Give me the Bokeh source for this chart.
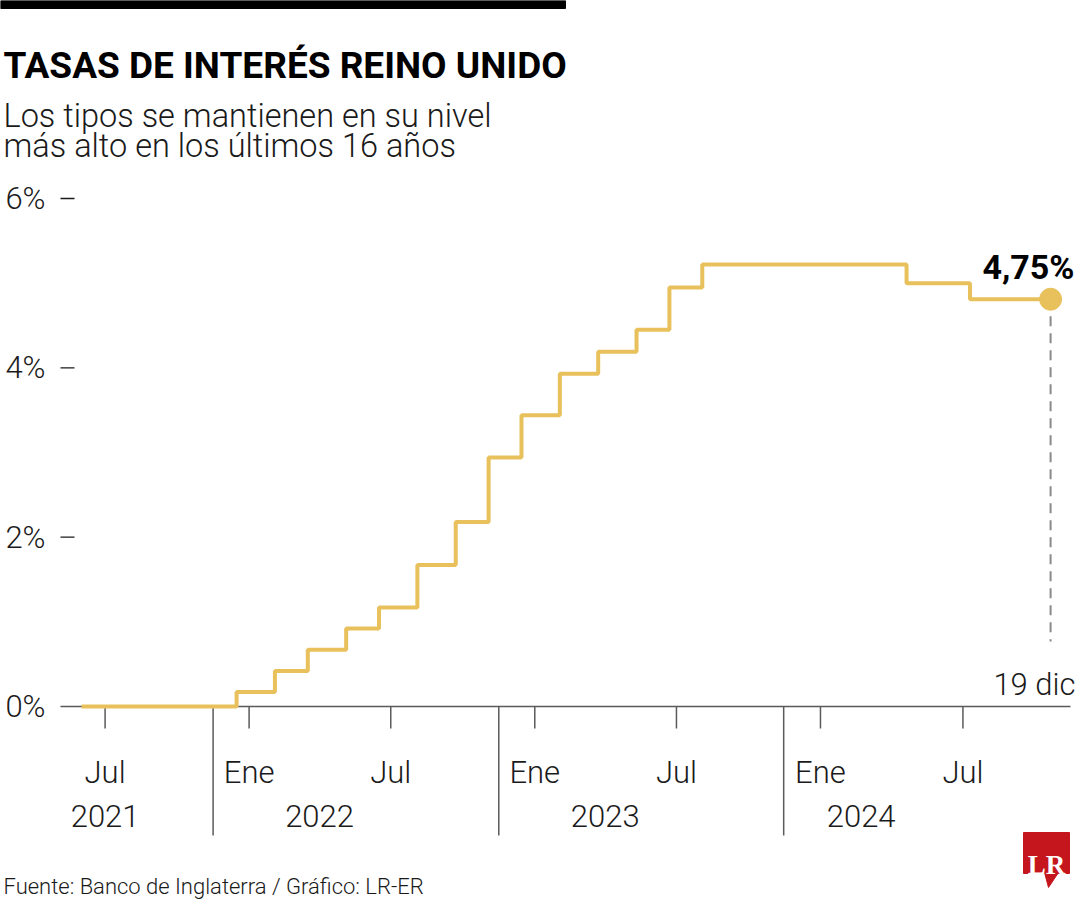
import pandas as pd
from bokeh.plotting import figure
from bokeh.models import Range1d
from bokeh.embed import file_html
from bokeh.resources import INLINE
from bokeh.core.properties import value

# ---------------- data ----------------
title = "TASAS DE INTERÉS REINO UNIDO"
subtitle = ["Los tipos se mantienen en su nivel", "más alto en los últimos 16 años"]
source_note = "Fuente: Banco de Inglaterra / Gráfico: LR-ER"

change_dates = ["2021-06-01", "2021-12-16", "2022-02-03", "2022-03-17", "2022-05-05",
                "2022-06-16", "2022-08-04", "2022-09-22", "2022-11-03", "2022-12-15",
                "2023-02-02", "2023-03-23", "2023-05-11", "2023-06-22", "2023-08-03",
                "2024-04-20", "2024-07-10"]
rates = [0.0, 0.17, 0.42, 0.67, 0.92, 1.17, 1.67, 2.18, 2.94, 3.44,
         3.93, 4.19, 4.45, 4.95, 5.22, 5.0, 4.81]
end_date = "2024-10-21"
end_date_label = "19 dic"
end_value_label = "4,75%"

y_ticks = [0, 2, 4, 6]
y_tick_labels = ["0%", "2%", "4%", "6%"]
x_tick_dates = ["2021-07-01", "2022-01-01", "2022-07-01", "2023-01-01",
                "2023-07-01", "2024-01-01", "2024-07-01"]
x_tick_labels = ["Jul", "Ene", "Jul", "Ene", "Jul", "Ene", "Jul"]
year_label_dates = ["2021-07-01", "2022-04-01", "2023-04-01", "2024-02-22"]
year_labels = ["2021", "2022", "2023", "2024"]
year_break_dates = ["2021-11-16", "2022-11-16", "2023-11-15"]

# ---------------- layout ----------------
W, H = 1080, 900
OFF = 0
PX_PER_DAY = 0.7827
PX_PER_PCT = 84.67
ANCHOR = pd.Timestamp("2022-01-01")
ANCHOR_PX = 248.6
BASE_PX = 706

xs = ANCHOR - pd.Timedelta(days=(ANCHOR_PX - OFF) / PX_PER_DAY)
xe = xs + pd.Timedelta(days=W / PX_PER_DAY)
ys = (BASE_PX - (OFF + H)) / PX_PER_PCT
ye = (BASE_PX - OFF) / PX_PER_PCT


def X(rx):
    return xs + pd.Timedelta(days=(rx - OFF) / PX_PER_DAY)


def Y(ry):
    return (BASE_PX - ry) / PX_PER_PCT


LIGHT = value("Roboto Light, Roboto")
BOLD = value("Roboto")
GOLD = "#E8C15C"
INK = "#1a1a1a"
AXIS = "#5a5a5a"
FS = "31px"

p = figure(width=W, height=H, x_range=Range1d(xs, xe), y_range=Range1d(ys, ye),
           x_axis_type="datetime", output_backend="svg", toolbar_location=None,
           min_border=0, x_axis_location=None, y_axis_location=None)
p.grid.visible = False
p.outline_line_color = None
p.background_fill_color = "white"
p.border_fill_color = "white"

# top bar
p.quad(left=[X(0)], right=[X(565)], top=[Y(0)], bottom=[Y(8)], color="black")

# titles
p.text(x=[X(3)], y=[Y(65)], text=[title], text_font=BOLD, text_font_style="bold",
       text_font_size="37px", text_color="black", text_baseline="alphabetic")
p.text(x=[X(3), X(3)], y=[Y(115), Y(145)], text=subtitle, text_font=LIGHT,
       text_font_size="32.5px", text_color=INK, text_baseline="alphabetic")

# y axis ticks/labels
p.segment(x0=[X(60)] * 3, y0=y_ticks[1:], x1=[X(74)] * 3, y1=y_ticks[1:],
          line_color=INK, line_width=1.3)
p.text(x=[X(45)] * len(y_ticks), y=y_ticks, text=y_tick_labels, text_font=LIGHT,
       text_font_size=FS, text_color=INK, text_align="right", text_baseline="middle")

# x axis
p.segment(x0=[X(60)], y0=[0], x1=[X(1070)], y1=[0], line_color=AXIS, line_width=1.5)
tick_dt = pd.to_datetime(x_tick_dates)
p.segment(x0=tick_dt, y0=[0] * len(tick_dt), x1=tick_dt, y1=[Y(728)] * len(tick_dt),
          line_color=AXIS, line_width=1.5)
brk_dt = pd.to_datetime(year_break_dates)
p.segment(x0=brk_dt, y0=[0] * len(brk_dt), x1=brk_dt, y1=[Y(835)] * len(brk_dt),
          line_color=AXIS, line_width=1.5)
p.text(x=tick_dt, y=[Y(772)] * len(tick_dt), text=x_tick_labels, text_font=LIGHT,
       text_font_size=FS, text_color=INK, text_align="center", text_baseline="alphabetic")
p.text(x=pd.to_datetime(year_label_dates), y=[Y(815)] * len(year_labels), text=year_labels,
       text_font=LIGHT, text_font_size=FS, text_color=INK, text_align="center",
       text_baseline="alphabetic")

# data line
step_x = pd.to_datetime(change_dates + [end_date])
step_y = rates + [rates[-1]]
p.step(x=step_x, y=step_y, mode="after", line_color=GOLD, line_width=4)

end_dt = pd.to_datetime([end_date])
p.segment(x0=end_dt, y0=[rates[-1]], x1=end_dt, y1=[Y(641)], line_color="#8a8a8a",
          line_width=2, line_dash="10 7")
p.scatter(x=end_dt, y=[rates[-1]], size=22, color=GOLD)

p.text(x=[X(1074)], y=[Y(266)], text=[end_value_label], text_font=BOLD,
       text_font_style="bold", text_font_size="34px", text_color="black",
       text_align="right", text_baseline="alphabetic")
p.text(x=[X(1075)], y=[Y(684)], text=[end_date_label], text_font=LIGHT,
       text_font_size=FS, text_color=INK, text_align="right", text_baseline="alphabetic")

# footer
p.text(x=[X(3)], y=[Y(886)], text=[source_note], text_font=LIGHT, text_font_size="22px",
       text_color=INK, text_baseline="alphabetic")

# logo
p.quad(left=[X(1023)], right=[X(1069)], top=[Y(832)], bottom=[Y(873)], color="#C4161C")
p.patch(x=[X(1044), X(1058), X(1048)], y=[Y(872), Y(872), Y(887)], color="#C4161C")
p.text(x=[X(1046)], y=[Y(864)], text=["LR"], text_font=value("Liberation Serif"),
       text_font_style="bold", text_font_size="27px", text_color="white",
       text_align="center", text_baseline="alphabetic")

open("out.html", "w").write(file_html(p, INLINE))
